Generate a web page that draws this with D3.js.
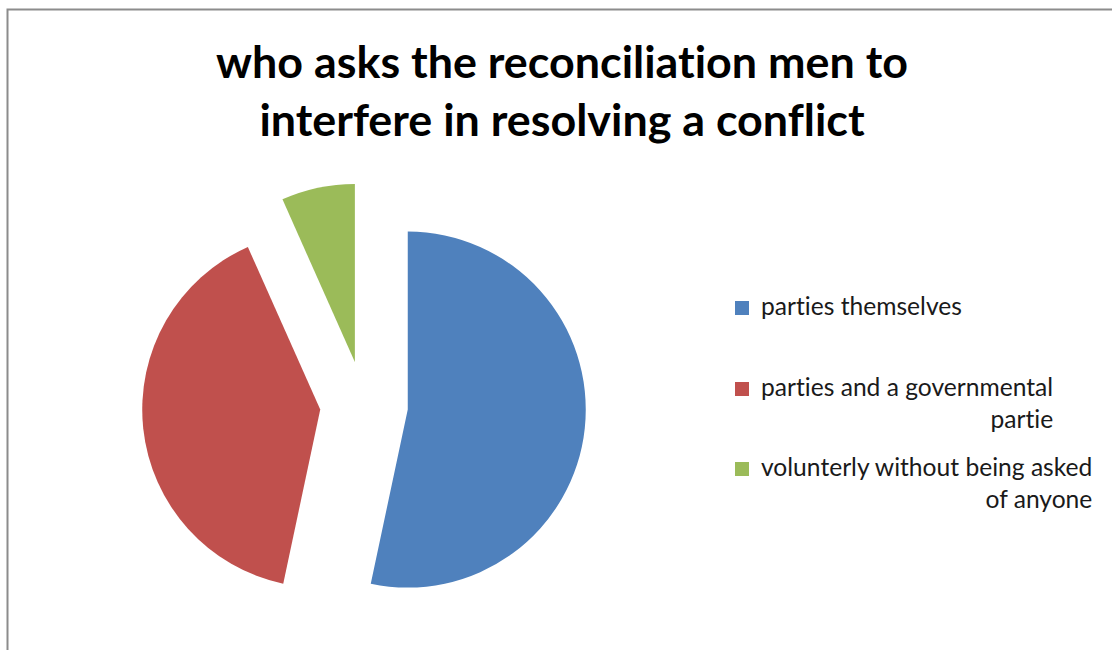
<!DOCTYPE html>
<html>
<head>
<meta charset="utf-8">
<script src="https://cdn.jsdelivr.net/npm/d3@7"></script>
<style>
  html, body { margin: 0; padding: 0; background: #fff; }
  svg { display: block; }
  text { font-variant-ligatures: none; font-feature-settings: "liga" 0, "clig" 0; }
</style>
</head>
<body>
<div id="chart"></div>
<script>
// DATA
const categories = [
  "parties themselves",
  "parties and a governmental partie",
  "volunterly without being asked of anyone"
];
const values = [8, 6, 1];
const legendLines = [
  ["parties themselves"],
  ["parties and a governmental", "partie"],
  ["volunterly without being asked", "of anyone"]
];
const titleLines = [
  "who asks the reconciliation men to",
  "interfere in resolving a conflict"
];
const colors = ["#4F81BD", "#C0504D", "#9BBB59"];

// SIZES
const width = 1112;
const height = 650;
const center = { x: 364, y: 405 };
const radius = 178;
const explode = 44;

const svg = d3.select("#chart")
  .append("svg")
  .attr("width", width)
  .attr("height", height);

// chart border
svg.append("rect")
  .attr("x", 7.5)
  .attr("y", 9.5)
  .attr("width", 1300)
  .attr("height", 800)
  .attr("fill", "#fff")
  .attr("stroke", "#8c8c8c")
  .attr("stroke-width", 2);

// TITLE
const titleFont = "Lato, 'Open Sans', sans-serif";
const title = svg.append("g").attr("class", "title");
const titleTexts = title.selectAll("text")
  .data(titleLines)
  .enter()
  .append("text")
  .attr("x", 562)
  .attr("y", (d, i) => 78 + i * 58)
  .attr("text-anchor", "middle")
  .style("font-family", titleFont)
  .style("font-weight", "bold")
  .style("font-size", "40px")
  .attr("fill", "#000")
  .text(d => d);

// fit title width to the reference (first line ~692px)
const tw = titleTexts.node().getComputedTextLength();
titleTexts.style("font-size", (40 * 692 / tw) + "px");

// PIE
const pie = d3.pie().sort(null).value(d => d);
const arc = d3.arc().innerRadius(0).outerRadius(radius);
const slices = pie(values);

svg.append("g")
  .attr("transform", `translate(${center.x},${center.y})`)
  .selectAll("path")
  .data(slices)
  .enter()
  .append("path")
  .attr("transform", d => {
    const mid = (d.startAngle + d.endAngle) / 2;
    return `translate(${explode * Math.sin(mid)},${-explode * Math.cos(mid)})`;
  })
  .attr("d", arc)
  .attr("fill", (d, i) => colors[i]);

// LEGEND
const legendFont = "Lato, 'Open Sans', sans-serif";
const legendY = [315, 396, 476];
const legend = svg.append("g").attr("class", "legend");

const items = legend.selectAll("g")
  .data(categories)
  .enter()
  .append("g");

items.append("rect")
  .attr("x", 735)
  .attr("y", (d, i) => legendY[i] - 14)
  .attr("width", 14)
  .attr("height", 14)
  .attr("fill", (d, i) => colors[i]);

items.each(function(d, i) {
  const g = d3.select(this);
  const lines = legendLines[i];
  g.append("text")
    .attr("class", "lg")
    .attr("x", 761)
    .attr("y", legendY[i])
    .text(lines[0]);
  if (lines.length > 1) {
    g.append("text")
      .attr("class", "lg2")
      .attr("y", legendY[i] + 32)
      .attr("text-anchor", "end")
      .text(lines[1]);
  }
});

legend.selectAll("text")
  .style("font-family", legendFont)
  .style("font-size", "21px")
  .attr("fill", "#1a1a1a");

// fit legend font to reference ("parties themselves" ~201px)
const lw = legend.select("text.lg").node().getComputedTextLength();
legend.selectAll("text").style("font-size", (21 * 201 / lw) + "px");

// right-align wrapped second lines with the first line
items.each(function() {
  const g = d3.select(this);
  const second = g.select("text.lg2");
  if (!second.empty()) {
    const w = g.select("text.lg").node().getComputedTextLength();
    second.attr("x", 761 + w);
  }
});
</script>
</body>
</html>
